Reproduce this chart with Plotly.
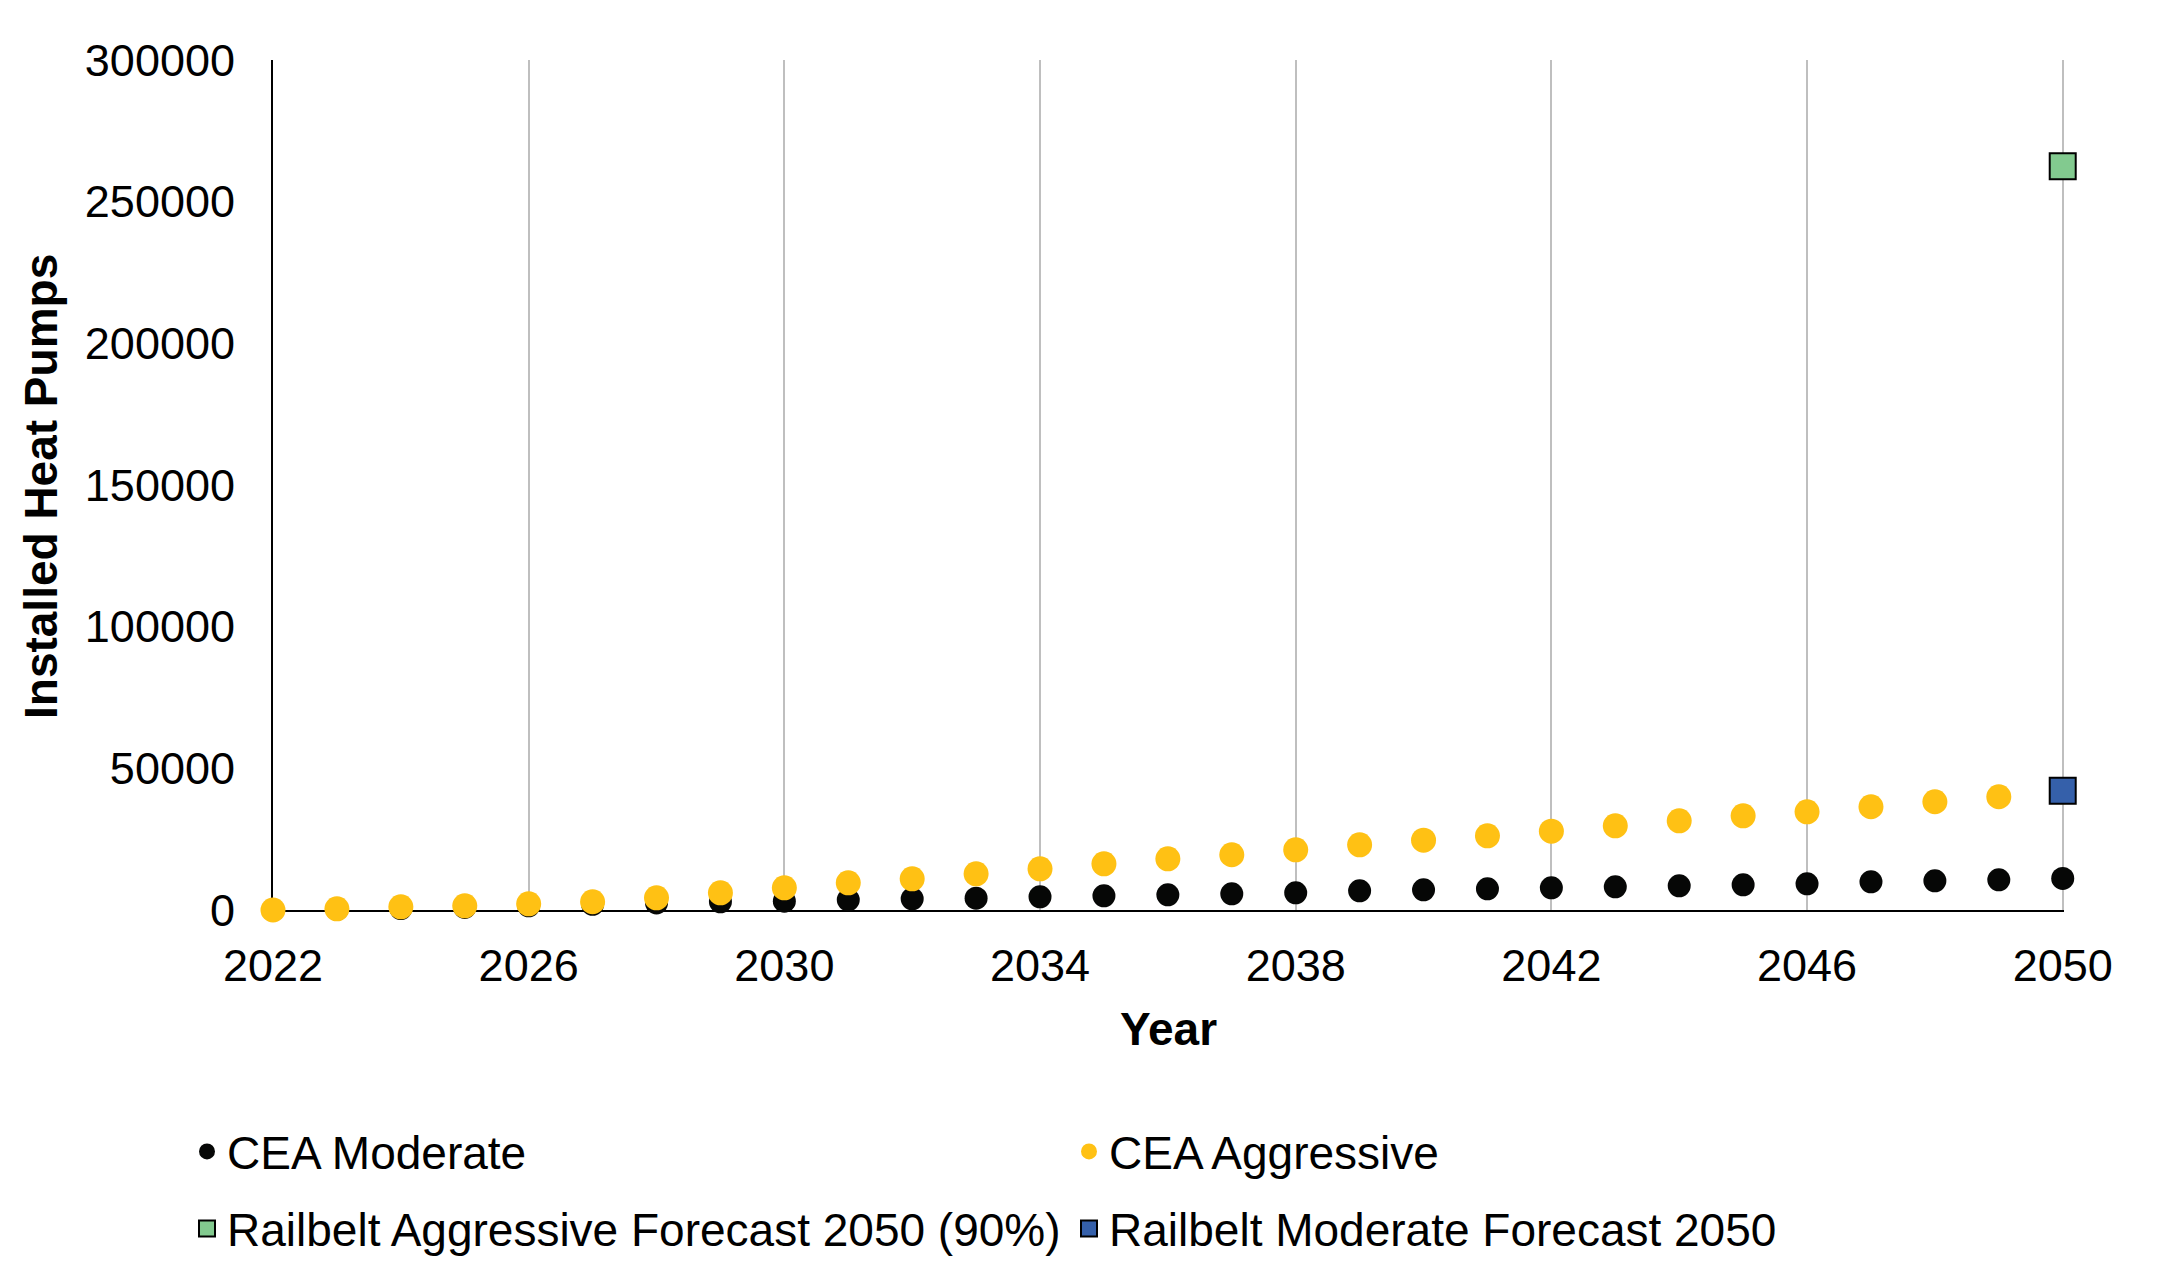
import plotly.graph_objects as go

years = list(range(2022, 2051))

cea_moderate = [0, 200, 500, 900, 1500, 2000, 2500, 2900, 3110, 3600, 3950, 4170, 4660,
                5010, 5370, 5720, 6070, 6780, 7130, 7480, 7840, 8190, 8540, 8900, 9250,
                9950, 10310, 10660, 11120]

cea_aggressive = [0, 420, 1130, 1480, 2190, 2900, 4300, 6070, 7840, 9600, 11010, 12780,
                  14540, 16310, 18070, 19490, 21250, 23010, 24640, 26190, 27820, 29720,
                  31480, 33250, 34660, 36430, 38200, 39960, 41700]

railbelt_years = [2050]
railbelt_aggressive = [262500]
railbelt_moderate = [42070]

FONT = "Liberation Sans, Arial, sans-serif"
W, H = 2153, 1274
L, R, T, B = 265, 97, 52, 372
PW, PH = W - L - R, H - T - B

fig = go.Figure()
fig.add_trace(go.Scatter(x=years, y=cea_moderate, mode="markers", name="CEA Moderate",
                         marker=dict(color="#060706", size=23), cliponaxis=False,
                         legend="legend"))
fig.add_trace(go.Scatter(x=years, y=cea_aggressive, mode="markers", name="CEA Aggressive",
                         marker=dict(color="#FFC114", size=25), cliponaxis=False,
                         legend="legend2"))
fig.add_trace(go.Scatter(x=railbelt_years, y=railbelt_aggressive, mode="markers",
                         name="Railbelt Aggressive Forecast 2050 (90%)",
                         marker=dict(color="#82CA8F", size=26, symbol="square",
                                     line=dict(color="#000000", width=2)),
                         cliponaxis=False, legend="legend3"))
fig.add_trace(go.Scatter(x=railbelt_years, y=railbelt_moderate, mode="markers",
                         name="Railbelt Moderate Forecast 2050",
                         marker=dict(color="#3560AA", size=26, symbol="square",
                                     line=dict(color="#000000", width=2)),
                         cliponaxis=False, legend="legend4"))

legend_common = dict(xref="container", yref="container", xanchor="left", yanchor="middle",
                     font=dict(family=FONT, size=46, color="#000000"),
                     bgcolor="rgba(0,0,0,0)", itemsizing="trace")

fig.update_layout(
    width=W, height=H,
    margin=dict(l=L, r=R, t=T, b=B, autoexpand=False),
    paper_bgcolor="white", plot_bgcolor="white",
    font=dict(family=FONT, size=45, color="#000000"),
    legend=dict(x=179 / W, y=130.5 / H, **legend_common),
    legend2=dict(x=1061 / W, y=130.5 / H, **legend_common),
    legend3=dict(x=179 / W, y=53.5 / H, **legend_common),
    legend4=dict(x=1061 / W, y=53.5 / H, **legend_common),
    xaxis=dict(
        range=[2022, 2050.02], tick0=2022, dtick=4, ticks="",
        showgrid=True, gridcolor="#BFBFBF", gridwidth=2,
        showline=True, linecolor="#000000", linewidth=2,
        zeroline=False, layer="below traces",
        tickfont=dict(family=FONT, size=45, color="#000000"),
        ticklabelstandoff=15,
        title=dict(text="<b>Year</b>", font=dict(family=FONT, size=46, color="#000000"),
                   standoff=23),
    ),
    yaxis=dict(
        range=[0, 300000], tick0=0, dtick=50000, ticks="", tickformat="d",
        showgrid=False, showline=True, linecolor="#000000", linewidth=2,
        zeroline=False, layer="below traces",
        tickfont=dict(family=FONT, size=45, color="#000000"),
        ticklabelstandoff=27,
    ),
    annotations=[dict(
        text="<b>Installed Heat Pumps</b>", textangle=-90, showarrow=False,
        xref="paper", yref="paper", x=(33 - L) / PW, y=(T + PH - 478) / PH,
        xanchor="center", yanchor="middle",
        font=dict(family=FONT, size=46, color="#000000"),
    )],
    showlegend=True,
)

fig.write_html("out.html")
